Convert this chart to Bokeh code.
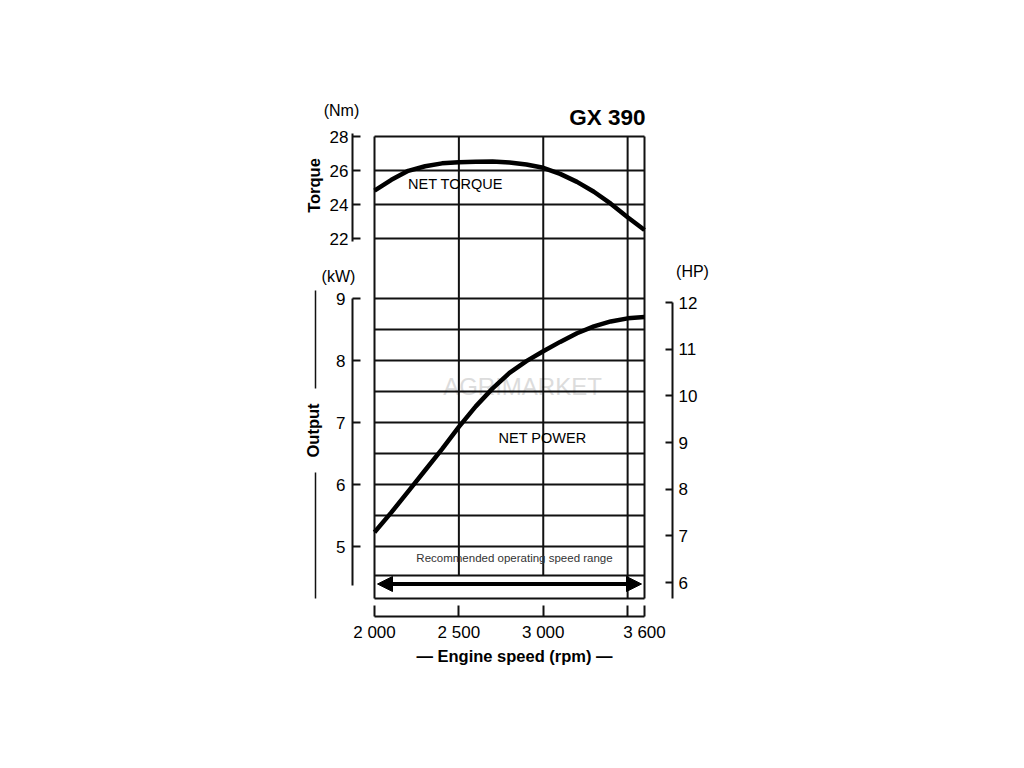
import math
from bokeh.plotting import figure
from bokeh.models import Range1d, LinearAxis, FixedTicker, Arrow, NormalHead
from bokeh.core.properties import value
from bokeh.embed import file_html
from bokeh.resources import INLINE

# ---------------- data ----------------
title_text = "GX 390"
rpm = [2000, 2100, 2200, 2300, 2400, 2500, 2600, 2700, 2800,
       2900, 3000, 3100, 3200, 3300, 3400, 3500, 3600]
torque_nm = [24.82, 25.45, 25.98, 26.25, 26.42, 26.49, 26.52, 26.53, 26.47,
             26.35, 26.16, 25.80, 25.33, 24.75, 24.05, 23.25, 22.50]
power_kw = [5.23, 5.55, 5.89, 6.23, 6.57, 6.93, 7.26, 7.55, 7.80,
            7.99, 8.15, 8.30, 8.44, 8.55, 8.63, 8.68, 8.70]

rpm_ticks = [2000, 2500, 3000, 3500, 3600]
rpm_tick_labels = ["2 000", "2 500", "3 000", "", "3 600"]
torque_ticks = [22, 24, 26, 28]
kw_ticks = [5, 6, 7, 8, 9]
hp_ticks = [6, 7, 8, 9, 10, 11, 12]

torque_grid = [28, 26, 24, 22]
kw_grid = [9, 8.5, 8, 7.5, 7, 6.5, 6, 5.5, 5]
rpm_grid_full = [2000, 3500, 3600]
rpm_grid_part = [2500, 3000]
rec_range = [2000, 3600]

# ---------------- layout (page pixels) ----------------
def _lin(p0, v0, p1, v1):
    return lambda px: v0 + (px - p0) * (v1 - v0) / (p1 - p0)

rpm_at = _lin(374, 2000, 644, 3600)
kw_at = _lin(298, 9, 546, 5)
nm_at = _lin(136, 28, 238, 22)
hp_at = _lin(302, 12, 582, 6)

FL, FR, FT, FB = 280, 740, 90, 690   # frame edges on the page
FONT = "Liberation Sans"
INK = "#111111"

p = figure(frame_width=FR - FL, frame_height=FB - FT,
           min_border_left=FL, min_border_top=FT,
           min_border_right=10, min_border_bottom=10,
           x_range=Range1d(rpm_at(FL), rpm_at(FR)),
           y_range=Range1d(kw_at(FB), kw_at(FT)),
           x_axis_type=None, y_axis_type=None,
           toolbar_location=None, output_backend="svg")
p.outline_line_color = None
p.background_fill_color = "white"
p.border_fill_color = "white"
p.extra_y_ranges = {"torque": Range1d(nm_at(FB), nm_at(FT)),
                    "hp": Range1d(hp_at(FB), hp_at(FT))}

# watermark
p.text(x=[rpm_at(522)], y=[kw_at(386)], text=["AGRIMARKET"],
       text_font=value(FONT), text_font_size=value("24px"),
       text_align="center", text_baseline="middle", text_color="#dcdcdc")

# ---------------- grid box ----------------
box_top = kw_at(136)
box_bot = kw_at(598)
row_top = kw_at(575)
p.segment(x0=[rec_range[0]] * len(torque_grid), x1=[rec_range[1]] * len(torque_grid),
          y0=torque_grid, y1=torque_grid, y_range_name="torque",
          line_color=INK, line_width=2)
hl = kw_grid + [row_top, box_bot]
p.segment(x0=[rec_range[0]] * len(hl), x1=[rec_range[1]] * len(hl),
          y0=hl, y1=hl, line_color=INK, line_width=2)
p.segment(x0=rpm_grid_full, x1=rpm_grid_full,
          y0=[box_top] * len(rpm_grid_full), y1=[box_bot] * len(rpm_grid_full),
          line_color=INK, line_width=2)
p.segment(x0=rpm_grid_part, x1=rpm_grid_part,
          y0=[box_top] * len(rpm_grid_part), y1=[row_top] * len(rpm_grid_part),
          line_color=INK, line_width=2)

# ---------------- curves ----------------
p.line(rpm, torque_nm, y_range_name="torque", line_color="black",
       line_width=4.5, line_join="round", line_cap="butt")
p.line(rpm, power_kw, line_color="black", line_width=4.5,
       line_join="round", line_cap="butt")

# recommended range arrow
pad = rpm_at(377) - rpm_at(374)
p.add_layout(Arrow(start=NormalHead(size=15, fill_color="black", line_color="black"),
                   end=NormalHead(size=15, fill_color="black", line_color="black"),
                   x_start=rec_range[0] + pad, x_end=rec_range[1] - pad,
                   y_start=kw_at(583.5), y_end=kw_at(583.5),
                   line_width=4, line_color="black"))

# ---------------- axes ----------------
def style(ax, tick_in, standoff):
    ax.major_tick_in = tick_in
    ax.major_tick_out = 0
    ax.minor_tick_in = 0
    ax.minor_tick_out = 0
    ax.axis_line_width = 2
    ax.axis_line_color = INK
    ax.major_tick_line_width = 2
    ax.major_tick_line_color = INK
    ax.major_label_text_font = FONT
    ax.major_label_text_font_size = "17px"
    ax.major_label_text_color = "black"
    ax.major_label_standoff = standoff

kw_axis = LinearAxis(ticker=FixedTicker(ticks=kw_ticks),
                     fixed_location=rpm_at(352), bounds=(kw_at(585), kw_ticks[-1]))
style(kw_axis, 8, 7)
p.add_layout(kw_axis, "left")

nm_axis = LinearAxis(y_range_name="torque", ticker=FixedTicker(ticks=torque_ticks),
                     fixed_location=rpm_at(352), bounds=(nm_at(241), nm_at(133)))
style(nm_axis, 8, 4)
p.add_layout(nm_axis, "left")

hp_axis = LinearAxis(y_range_name="hp", ticker=FixedTicker(ticks=hp_ticks),
                     fixed_location=rpm_at(672), bounds=(hp_at(598), hp_ticks[-1]))
style(hp_axis, 7, 6)
p.add_layout(hp_axis, "right")

x_axis = LinearAxis(ticker=FixedTicker(ticks=rpm_ticks),
                    fixed_location=kw_at(616), bounds=(rpm_ticks[0], rpm_ticks[-1]))
x_axis.major_label_overrides = {t: l for t, l in zip(rpm_ticks, rpm_tick_labels)}
style(x_axis, 11, 6)
p.add_layout(x_axis, "below")

# ---------------- texts ----------------
def txt(px, py, s, size, bold=False, align="center", angle=0.0, color="black"):
    p.text(x=[rpm_at(px)], y=[kw_at(py)], text=[s],
           text_font=value(FONT), text_font_size=value(f"{size}px"),
           text_font_style="bold" if bold else "normal",
           text_align=align, text_baseline="middle", angle=angle,
           text_color=color)

txt(645, 117, title_text, 22.5, bold=True, align="right")
txt(341, 110, "(Nm)", 16)
txt(338, 276, "(kW)", 16)
txt(692, 271, "(HP)", 16)
txt(313, 185, "Torque", 16.5, bold=True, angle=math.pi / 2)
txt(312, 430, "Output", 16.5, bold=True, angle=math.pi / 2)
txt(455, 183, "NET TORQUE", 14.5)
txt(542, 437, "NET POWER", 14.5)
txt(514, 557, "Recommended operating speed range", 11.5, color="#333333")
txt(514, 655, "\u2014 Engine speed (rpm) \u2014", 16.5, bold=True)

# decorative lines around "Output"
p.segment(x0=[rpm_at(315)] * 2, x1=[rpm_at(315)] * 2,
          y0=[kw_at(290), kw_at(472)], y1=[kw_at(388), kw_at(598)],
          line_color=INK, line_width=1.5)

open("out.html", "w").write(file_html(p, INLINE))
